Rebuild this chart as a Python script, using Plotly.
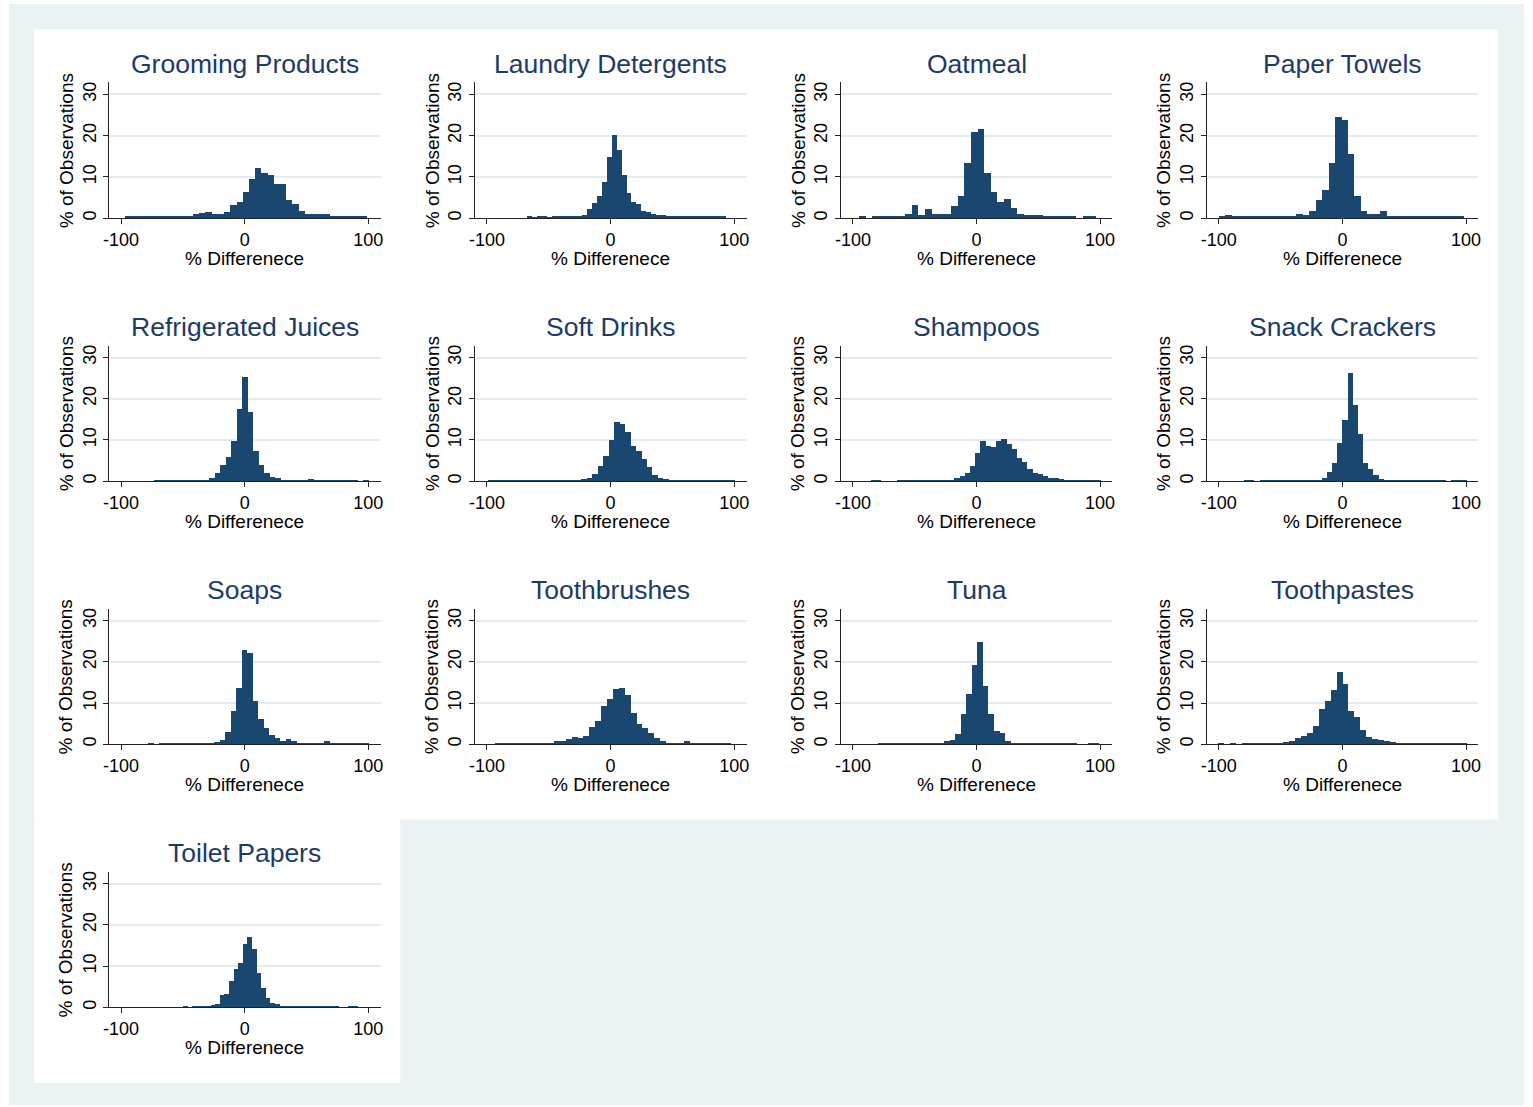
import plotly.graph_objects as go

W, H = 1533, 1107

NAVY = "#1A476F"
TITLE_NAVY = "#1C3B66"
BG_OUTER = "#EAF2F3"
GRID = "#E3EBEE"
FONT = "Liberation Sans, Arial, sans-serif"

# ---- histogram data: % of observations per bin, bins spanning (min, max) of % difference ----
grooming_span = (-97.3, 98.7)
grooming = [0.3, 0.3, 0.2, 0.3, 0.3, 0.2, 0.3, 0.3, 0.3, 0.3,
            0.4, 0.8, 1.2, 1.3, 1.0, 0.9, 1.3, 3.1, 3.8, 6.2,
            9.3, 12.0, 10.8, 10.3, 8.2, 8.2, 4.2, 3.3, 1.5, 0.8,
            0.8, 0.8, 1.0, 0.5, 0.3, 0.3, 0.3, 0.3, 0.3]

laundry_span = (-67.8, 93.0)
laundry = [0.3, 0.05, 0.3, 0.3, 0.1, 0.2, 0.2, 0.2, 0.2, 0.2,
           0.2, 0.7, 2.0, 3.6, 5.2, 8.6, 14.8, 20.1, 16.3, 10.4,
           5.9, 3.8, 3.2, 1.6, 1.4, 1.0, 0.6, 0.6, 0.3, 0.3,
           0.3, 0.3, 0.3, 0.3, 0.3, 0.3, 0.3, 0.3, 0.3, 0.3]

oatmeal_span = (-95.2, 96.3)
oatmeal = [0.3, 0.0, 0.3, 0.3, 0.3, 0.2, 0.4, 1.0, 3.0, 0.6,
           2.0, 0.8, 1.0, 1.0, 2.8, 5.3, 13.3, 20.8, 21.5, 10.8,
           6.3, 3.9, 4.4, 2.4, 1.0, 0.6, 0.6, 0.6, 0.4, 0.4,
           0.5, 0.4, 0.4, 0.0, 0.4, 0.4]

paper_towels_span = (-100.3, 98.1)
paper_towels = [0.3, 0.6, 0.3, 0.3, 0.3, 0.3, 0.3, 0.3, 0.3, 0.3,
                0.3, 0.5, 0.8, 0.6, 1.6, 4.3, 6.6, 13.3, 24.4, 23.7,
                15.5, 5.3, 1.5, 1.0, 1.0, 1.5, 0.3, 0.3, 0.3, 0.3,
                0.3, 0.3, 0.3, 0.3, 0.3, 0.3, 0.3, 0.3]

juices_span = (-73.4, 100.2)
juices = [0.4, 0.2, 0.3, 0.3, 0.3, 0.3, 0.3, 0.3, 0.3, 0.3,
          0.8, 2.0, 4.1, 5.9, 9.9, 17.7, 25.5, 17.0, 7.5, 4.1,
          2.0, 1.2, 0.8, 0.5, 0.3, 0.3, 0.3, 0.3, 0.7, 0.3,
          0.3, 0.3, 0.3, 0.3, 0.3, 0.3, 0.2, 0.0, 0.3]

soft_drinks_span = (-99.2, 100.0)
soft_drinks = [0.3, 0.3, 0.3, 0.3, 0.3, 0.3, 0.3, 0.3, 0.3, 0.3,
               0.3, 0.3, 0.3, 0.3, 0.3, 0.3, 0.3, 0.6, 0.8, 1.9,
               3.7, 6.3, 10.2, 14.4, 13.9, 12.0, 8.6, 7.5, 5.4, 3.5,
               1.6, 0.8, 0.6, 0.3, 0.3, 0.3, 0.3, 0.3, 0.3, 0.3,
               0.3, 0.3, 0.3, 0.3, 0.3]

shampoos_span = (-85.9, 100.0)
shampoos = [0.4, 0.4, 0.0, 0.0, 0.1, 0.3, 0.3, 0.3, 0.3, 0.3,
            0.3, 0.3, 0.3, 0.3, 0.3, 0.5, 1.0, 1.3, 2.0, 3.8,
            7.0, 9.8, 8.6, 8.3, 9.9, 10.4, 9.2, 7.9, 5.8, 4.8,
            3.0, 2.0, 1.8, 1.3, 1.0, 0.8, 0.7, 0.5, 0.3, 0.3,
            0.3, 0.3, 0.3, 0.3]

crackers_span = (-80.0, 100.0)
crackers = [0.4, 0.4, 0.0, 0.3, 0.3, 0.3, 0.3, 0.5, 0.3, 0.3,
            0.3, 0.3, 0.3, 0.3, 0.5, 1.0, 2.3, 4.5, 9.3, 15.0,
            26.3, 18.6, 11.5, 4.6, 3.0, 1.5, 0.7, 0.3, 0.3, 0.3,
            0.3, 0.3, 0.3, 0.3, 0.3, 0.3, 0.3, 0.3, 0.3, 0.0,
            0.3, 0.3, 0.3]

soaps_span = (-78.3, 100.0)
soaps = [0.4, 0.1, 0.2, 0.2, 0.2, 0.2, 0.2, 0.2, 0.5, 0.4,
         0.5, 0.5, 0.7, 1.2, 3.1, 8.2, 13.8, 23.0, 22.3, 10.6,
         6.2, 4.0, 2.3, 1.5, 0.9, 1.3, 1.0, 0.5, 0.2, 0.2,
         0.2, 0.2, 0.8, 0.3, 0.3, 0.3, 0.3, 0.3, 0.3, 0.3]

toothbrushes_span = (-93.8, 97.0)
toothbrushes = [0.3, 0.3, 0.3, 0.3, 0.3, 0.3, 0.3, 0.3, 0.3, 0.5,
                0.8, 1.0, 1.3, 1.9, 1.5, 2.0, 4.3, 5.7, 9.4, 11.0,
                13.4, 13.8, 12.1, 7.7, 5.0, 4.0, 2.8, 1.7, 0.8, 0.3,
                0.3, 0.3, 0.8, 0.3, 0.3, 0.3, 0.3, 0.3, 0.3, 0.3]

tuna_span = (-80.3, 98.9)
tuna = [0.3, 0.3, 0.3, 0.3, 0.3, 0.3, 0.5, 0.4, 0.5, 0.3,
        0.3, 0.5, 0.9, 1.2, 2.7, 7.5, 12.3, 19.4, 24.9, 14.3,
        7.4, 3.4, 2.8, 0.8, 0.4, 0.3, 0.3, 0.3, 0.3, 0.3,
        0.3, 0.3, 0.3, 0.3, 0.3, 0.3, 0.0, 0.0, 0.2, 0.3]

toothpastes_span = (-100.7, 100.0)
toothpastes = [0.3, 0.0, 0.3, 0.0, 0.2, 0.3, 0.3, 0.3, 0.3, 0.3,
               0.4, 0.6, 1.0, 1.5, 2.0, 2.8, 4.5, 8.7, 10.6, 13.3,
               17.7, 14.8, 8.2, 6.8, 3.6, 1.9, 1.4, 1.1, 0.9, 0.6,
               0.4, 0.4, 0.3, 0.3, 0.3, 0.3, 0.3, 0.3, 0.3, 0.3,
               0.3, 0.3]

toilet_paper_span = (-50.0, 91.2)
toilet_paper = [0.3, 0.0, 0.3, 0.3, 0.3, 0.4, 0.7, 0.8, 3.0, 3.2,
                6.4, 9.3, 10.8, 15.5, 17.1, 14.2, 8.5, 4.8, 2.4, 1.2,
                1.0, 0.5, 0.3, 0.3, 0.3, 0.3, 0.3, 0.2, 0.3, 0.3,
                0.3, 0.3, 0.3, 0.3, 0.0, 0.0, 0.3, 0.3]

panels = [
    ("Grooming Products", grooming_span, grooming),
    ("Laundry Detergents", laundry_span, laundry),
    ("Oatmeal", oatmeal_span, oatmeal),
    ("Paper Towels", paper_towels_span, paper_towels),
    ("Refrigerated Juices", juices_span, juices),
    ("Soft Drinks", soft_drinks_span, soft_drinks),
    ("Shampoos", shampoos_span, shampoos),
    ("Snack Crackers", crackers_span, crackers),
    ("Soaps", soaps_span, soaps),
    ("Toothbrushes", toothbrushes_span, toothbrushes),
    ("Tuna", tuna_span, tuna),
    ("Toothpastes", toothpastes_span, toothpastes),
    ("Toilet Papers", toilet_paper_span, toilet_paper),
]

x_ticks = [-100, 0, 100]
x_tick_text = ["-100", "0", "100"]
y_ticks = [0, 10, 20, 30]
x_title = "% Differenece"
y_title = "% of Observations"

# ---- grid geometry (pixels) ----
COL_X0 = 103.3
COL_STEP = 368.1
ROW_Y0 = 217.7
ROW_STEP = 263.8
PLOT_W = 273.5
PLOT_H = 136.0


def px(x):
    return x / W


def py(y):
    return 1 - y / H


fig = go.Figure()
layout = {}
annotations = []

for i, (name, (lo, hi), pct) in enumerate(panels):
    r, c = divmod(i, 4)
    n = len(pct)
    bw = (hi - lo) / n
    centers = [lo + bw * (k + 0.5) for k in range(n)]
    sfx = "" if i == 0 else str(i + 1)

    fig.add_trace(go.Bar(
        x=centers, y=pct, width=bw,
        marker=dict(color=NAVY, line=dict(width=0)),
        xaxis="x" + sfx, yaxis="y" + sfx,
        showlegend=False, hoverinfo="skip",
    ))

    x0 = COL_X0 + COL_STEP * c
    x1 = x0 + PLOT_W
    ybot = ROW_Y0 + ROW_STEP * r
    ytop = ybot - PLOT_H

    layout["xaxis" + sfx] = dict(
        domain=[px(x0), px(x1)], range=[-110, 110], anchor="y" + sfx,
        showline=True, linecolor="#222222", linewidth=1,
        ticks="outside", ticklen=5, tickcolor="#222222", tickwidth=1,
        tickvals=x_ticks, ticktext=x_tick_text,
        tickfont=dict(family=FONT, size=18, color="#000000"),
        showgrid=False, zeroline=False, fixedrange=True,
    )
    layout["yaxis" + sfx] = dict(
        domain=[py(ybot), py(ytop)], range=[0, 32.9], anchor="x" + sfx,
        showline=True, linecolor="#222222", linewidth=1,
        ticks="outside", ticklen=5, tickcolor="#222222", tickwidth=1,
        tickvals=y_ticks, ticktext=[str(v) for v in y_ticks], tickangle=-90,
        tickfont=dict(family=FONT, size=18, color="#000000"),
        showgrid=True, gridcolor=GRID, gridwidth=1.5,
        zeroline=False, fixedrange=True,
    )

    cx = (x0 + x1) / 2
    annotations.append(dict(
        text=name, x=px(cx), y=py(ytop - 19), xref="paper", yref="paper",
        xanchor="center", yanchor="middle", showarrow=False,
        font=dict(family=FONT, size=26.5, color=TITLE_NAVY),
    ))
    annotations.append(dict(
        text=x_title, x=px(cx), y=py(ybot + 40), xref="paper", yref="paper",
        xanchor="center", yanchor="middle", showarrow=False,
        font=dict(family=FONT, size=19, color="#000000"),
    ))
    annotations.append(dict(
        text=y_title, x=px(x0 - 43), y=py(ybot - PLOT_H / 2), xref="paper", yref="paper",
        xanchor="center", yanchor="middle", showarrow=False, textangle=-90,
        font=dict(family=FONT, size=19, color="#000000"),
    ))

shapes = [
    dict(type="rect", xref="paper", yref="paper", layer="below",
         x0=px(3), x1=px(1527), y0=py(1107), y1=py(3),
         fillcolor=BG_OUTER, line=dict(width=0)),
    dict(type="rect", xref="paper", yref="paper", layer="below",
         x0=px(28.3), x1=px(1501), y0=py(820.7), y1=py(28.3),
         fillcolor="#FFFFFF", line=dict(width=0)),
    dict(type="rect", xref="paper", yref="paper", layer="below",
         x0=px(28.3), x1=px(396.7), y0=py(1085), y1=py(820.7),
         fillcolor="#FFFFFF", line=dict(width=0)),
]

fig.update_layout(
    width=W, height=H,
    margin=dict(l=0, r=0, t=0, b=0),
    paper_bgcolor="#FFFFFF", plot_bgcolor="rgba(0,0,0,0)",
    bargap=0, shapes=shapes, annotations=annotations,
    font=dict(family=FONT),
    **layout,
)

fig.write_html("out.html", config={"displayModeBar": False})
